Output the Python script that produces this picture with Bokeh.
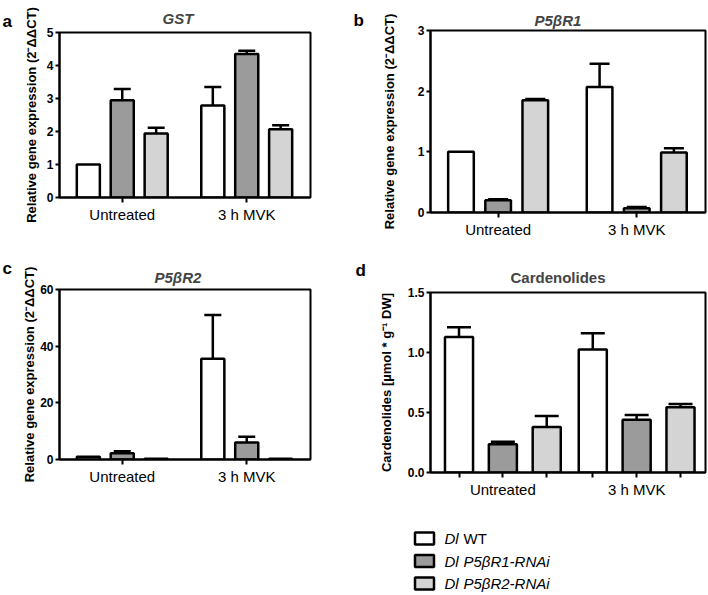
from bokeh.plotting import figure
from bokeh.models import (Range1d, FixedTicker, Whisker, TeeHead, ColumnDataSource,
                          NumeralTickFormatter, BasicTickFormatter)
from bokeh.layouts import column, row
from bokeh.embed import file_html
from bokeh.resources import INLINE
from bokeh.core.properties import value

# ---------------- data ----------------
groups = ["Untreated", "3 h MVK"]
series = ["Dl WT", "Dl P5βR1-RNAi", "Dl P5βR2-RNAi"]
series_colors = ["#ffffff", "#9b9b9b", "#d4d4d4"]

# values ordered: Untreated (WT, R1, R2), 3 h MVK (WT, R1, R2)
gst_mean = [1.00, 2.95, 1.94, 2.79, 4.35, 2.07]
gst_err = [0.00, 0.34, 0.17, 0.56, 0.10, 0.12]

p5r1_mean = [1.00, 0.20, 1.85, 2.07, 0.07, 0.99]
p5r1_err = [0.00, 0.02, 0.02, 0.38, 0.02, 0.07]

p5r2_mean = [1.0, 2.2, 0.3, 35.6, 6.0, 0.3]
p5r2_err = [0.0, 0.7, 0.0, 15.4, 2.0, 0.0]

card_mean = [1.13, 0.236, 0.38, 1.025, 0.44, 0.544]
card_err = [0.08, 0.02, 0.09, 0.135, 0.04, 0.026]

panel_letters = ["a", "b", "c", "d"]

FONT = "Liberation Sans"


def make_panel(title, ylabel, means, errs, yticks, yfmt, width, height, borders,
               step, mleft, mright, barw, cap, per_bar_ticks, title_offset,
               title_standoff, label_standoff, title_italic=True):
    bl, br, bt, bb = borders
    p = figure(width=width, height=height, output_backend="svg", toolbar_location=None,
               min_border_left=bl, min_border_right=br, min_border_top=bt,
               min_border_bottom=bb,
               x_range=Range1d(-mleft, step + 2 + mright),
               y_range=Range1d(0, yticks[-1]))
    xs, colors = [], []
    for gi in range(len(groups)):
        for si in range(len(series)):
            xs.append(gi * step + si)
            colors.append(series_colors[si])
    tops = list(means)
    src = ColumnDataSource(dict(x=xs, top=tops, color=colors))
    p.vbar(x="x", top="top", bottom=0, width=barw, fill_color="color",
           line_color="black", line_width=2.5, source=src)
    ex = [x for x, e in zip(xs, errs) if e > 0]
    el = [t for t, e in zip(tops, errs) if e > 0]
    eu = [t + e for t, e in zip(tops, errs) if e > 0]
    wsrc = ColumnDataSource(dict(x=ex, lower=el, upper=eu))
    w = Whisker(base="x", lower="lower", upper="upper", source=wsrc,
                line_color="black", line_width=2.5, lower_head=None,
                upper_head=TeeHead(size=cap, line_color="black", line_width=2.5),
                level="underlay")
    p.add_layout(w)

    p.grid.visible = False
    p.outline_line_color = "black"
    p.outline_line_width = 2
    p.background_fill_color = "white"
    p.border_fill_color = "white"

    group_centers = [gi * step + 1 for gi in range(len(groups))]
    if per_bar_ticks:
        p.xaxis.ticker = FixedTicker(ticks=xs)
        overrides = {x: "" for x in xs}
        for gi, c in enumerate(group_centers):
            overrides[c] = groups[gi]
    else:
        p.xaxis.ticker = FixedTicker(ticks=group_centers)
        overrides = {c: groups[gi] for gi, c in enumerate(group_centers)}
    p.xaxis.major_label_overrides = overrides
    p.xaxis.minor_tick_line_color = None
    p.xaxis.major_tick_in = 0
    p.xaxis.major_tick_out = 5
    p.xaxis.major_tick_line_width = 2
    p.xaxis.axis_line_width = 2
    p.xaxis.major_label_standoff = 3
    p.xaxis.major_label_text_font = FONT
    p.xaxis.major_label_text_font_size = "15px"
    p.xaxis.major_label_text_color = "black"

    p.yaxis.ticker = FixedTicker(ticks=yticks)
    p.yaxis.formatter = yfmt
    p.yaxis.minor_tick_line_color = None
    p.yaxis.major_tick_in = 0
    p.yaxis.major_tick_out = 4
    p.yaxis.major_tick_line_width = 2
    p.yaxis.axis_line_width = 2
    p.yaxis.major_label_standoff = 2
    p.yaxis.major_label_text_font = FONT
    p.yaxis.major_label_text_font_size = "12px"
    p.yaxis.major_label_text_font_style = "bold"
    p.yaxis.major_label_text_color = "black"
    p.yaxis.axis_label = ylabel
    p.yaxis.axis_label_text_font = FONT
    p.yaxis.axis_label_text_font_size = "13px"
    p.yaxis.axis_label_text_font_style = "bold"
    p.yaxis.axis_label_text_color = "black"
    p.yaxis.axis_label_standoff = label_standoff

    p.title.text = title
    p.title.align = "left"
    p.title.text_font = FONT
    p.title.text_font_size = "15px"
    p.title.text_font_style = "bold italic" if title_italic else "bold"
    p.title.offset = title_offset
    p.title.standoff = title_standoff
    return p


def letter_strip(letter, width, height, x, y):
    f = figure(width=width, height=height, output_backend="svg", toolbar_location=None,
               x_range=Range1d(0, width), y_range=Range1d(height, 0),
               x_axis_location=None, y_axis_location=None,
               min_border_left=0, min_border_right=0, min_border_top=0,
               min_border_bottom=0)
    f.grid.visible = False
    f.outline_line_color = None
    f.border_fill_color = "white"
    f.text(x=[x], y=[y], text=[letter], text_font=value(FONT), text_font_size="17px",
           text_font_style="bold", text_baseline="alphabetic", text_align="left")
    return f


ylab = "Relative gene expression (2⁻ΔΔCT)"

pa = make_panel("GST", ylab, gst_mean, gst_err, [0, 1, 2, 3, 4, 5], BasicTickFormatter(),
                334, 250, (45, 38, 32, 53), 3.67, 0.85, 0.88, 0.68, 17, False,
                103, 11, 5)
pb = make_panel("P5βR1", ylab, p5r1_mean, p5r1_err, [0, 1, 2, 3], BasicTickFormatter(),
                342, 250, (64, 3, 30, 38), 3.73, 0.82, 0.85, 0.69, 20, False,
                104, 3, 18)
pc = make_panel("P5βR2", ylab, p5r2_mean, p5r2_err, [0, 20, 40, 60], BasicTickFormatter(),
                334, 255, (45, 38, 39, 46), 3.67, 0.85, 0.88, 0.68, 17, False,
                95, 8, 0)
pd = make_panel("Cardenolides", "Cardenolides [µmol * g⁻¹ DW]", card_mean, card_err,
                [0, 0.5, 1.0, 1.5], NumeralTickFormatter(format="0.0"),
                342, 255, (64, 3, 42, 33), 3.05, 0.65, 0.57, 0.64, 24, True,
                80, 13, 11, title_italic=False)

la = letter_strip(panel_letters[0], 14, 250, 2, 21)
lc = letter_strip(panel_letters[2], 14, 255, 2, 18)
lb = letter_strip(panel_letters[1], 18, 250, 5, 20)
ld = letter_strip(panel_letters[3], 18, 255, 7, 20)

# legend figure
leg = figure(width=708, height=90, output_backend="svg", toolbar_location=None,
             x_range=Range1d(0, 708), y_range=Range1d(90, 0),
             x_axis_location=None, y_axis_location=None,
             min_border_left=0, min_border_right=0, min_border_top=0, min_border_bottom=0)
leg.grid.visible = False
leg.outline_line_color = None
leg.border_fill_color = "white"
row_y = [33 + 22.5 * i for i in range(len(series))]
leg.rect(x=[424] * len(series), y=row_y, width=19, height=12, fill_color=series_colors,
         line_color="black", line_width=2.5)
prefixes = [s.split(" ", 1)[0] for s in series]
rests = [s.split(" ", 1)[1] for s in series]
leg.text(x=[444] * len(series), y=row_y, text=prefixes, text_font=value(FONT),
         text_font_size="15px", text_font_style="italic", text_baseline="middle")
leg.text(x=[463] * len(series), y=row_y, text=rests, text_font=value(FONT),
         text_font_size="15px",
         text_font_style=["normal" if i == 0 else "italic" for i in range(len(series))],
         text_baseline="middle")

layout = column(row(column(la, lc), column(pa, pc), column(lb, ld), column(pb, pd)), leg)
open("out.html", "w").write(file_html(layout, INLINE))
